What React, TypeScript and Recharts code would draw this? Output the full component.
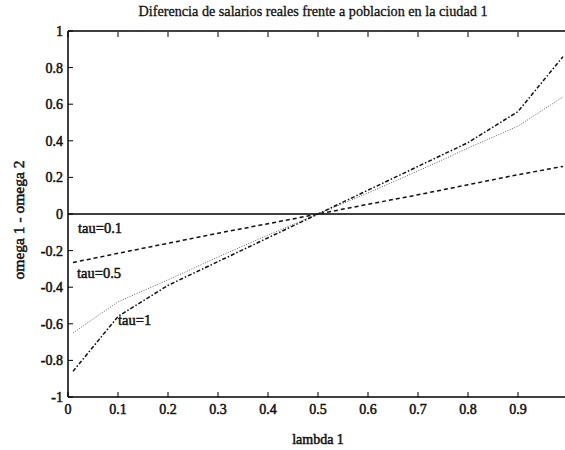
import React from 'react';
import { LineChart, Line, XAxis, YAxis, ReferenceLine, ReferenceDot, Label } from 'recharts';

const lambda = [0.01, 0.1, 0.2, 0.3, 0.4, 0.5, 0.6, 0.7, 0.8, 0.9, 0.99];
const tau01 = [-0.265, -0.215, -0.16, -0.105, -0.053, 0, 0.053, 0.105, 0.16, 0.215, 0.26];
const tau05 = [-0.65, -0.48, -0.36, -0.235, -0.115, 0, 0.115, 0.235, 0.36, 0.48, 0.64];
const tau1 = [-0.86, -0.56, -0.39, -0.26, -0.13, 0, 0.13, 0.26, 0.39, 0.56, 0.86];

const xTicks = [0, 0.1, 0.2, 0.3, 0.4, 0.5, 0.6, 0.7, 0.8, 0.9];
const yTicks = [-1, -0.8, -0.6, -0.4, -0.2, 0, 0.2, 0.4, 0.6, 0.8, 1];

const titleText = 'Diferencia de salarios reales frente a poblacion en la ciudad 1';
const xLabelText = 'lambda 1';
const yLabelText = 'omega 1 - omega 2';
const annotations = [
  { x: 0.02, y: -0.076, text: 'tau=0.1' },
  { x: 0.018, y: -0.32, text: 'tau=0.5' },
  { x: 0.1, y: -0.578, text: 'tau=1' },
];

const data = lambda.map((l, i) => ({ lambda: l, t01: tau01[i], t05: tau05[i], t1: tau1[i] }));

const FONT = 'Liberation Serif, Times New Roman, Times, serif';
const txt = (size: number, bold: number) => ({
  fontFamily: FONT, fontSize: size, fontWeight: 'normal', fill: '#111',
  stroke: bold > 0 ? '#111' : 'none', strokeWidth: bold,
} as any);

const BottomTick = (p: any) => (
  <g>
    <line x1={p.x} x2={p.x} y1={p.y} y2={p.y - 5} stroke="#000" strokeWidth={1} />
    <text x={p.x} y={p.y + 17} textAnchor="middle" style={txt(14, 0.5)}>
      {String(p.payload.value)}
    </text>
  </g>
);
const TopTick = (p: any) => (
  <line x1={p.x} x2={p.x} y1={p.y + 1} y2={p.y + 6} stroke="#000" strokeWidth={1} />
);
const LeftTick = (p: any) => (
  <g>
    <line x1={p.x} x2={p.x + 5} y1={p.y} y2={p.y} stroke="#000" strokeWidth={1} />
    <text x={p.x - 5} y={p.y + 5} textAnchor="end" style={txt(14, 0.5)}>
      {String(p.payload.value)}
    </text>
  </g>
);
const RightTick = (p: any) => (
  <line x1={p.x} x2={p.x - 5} y1={p.y} y2={p.y} stroke="#000" strokeWidth={1} />
);

export default function App() {
  return (
    <div style={{ position: 'absolute', left: 0, top: 0, width: 565, height: 450, overflow: 'hidden', background: '#fff' }}>
      <LineChart width={575} height={450} data={data} margin={{ top: 30, right: 7, left: 0, bottom: 0 }}>
        <XAxis xAxisId="b" dataKey="lambda" type="number" domain={[0, 1]} ticks={xTicks} interval={0}
          height={53} tickSize={0} tickMargin={0} tickLine={false} tick={<BottomTick />}
          axisLine={{ stroke: '#000', strokeWidth: 1.5 }}>
          <Label content={(props: any) => {
            const vb = props.viewBox;
            return (
              <text x={vb.x + vb.width / 2} y={vb.y + vb.height - 6} textAnchor="middle" style={txt(14, 0.5)}>{xLabelText}</text>
            );
          }} />
        </XAxis>
        <XAxis xAxisId="t" orientation="top" dataKey="lambda" type="number" domain={[0, 1]} ticks={xTicks} interval={0}
          height={1} tickSize={0} tickMargin={0} tickLine={false} tick={<TopTick />}
          axisLine={{ stroke: '#000', strokeWidth: 1.5 }}>
          <Label content={(props: any) => {
            const vb = props.viewBox;
            return (
              <text x={vb.x + vb.width / 2 - 5} y={vb.y - 14} textAnchor="middle" style={txt(14.2, 0.3)}>{titleText}</text>
            );
          }} />
        </XAxis>
        <YAxis yAxisId="l" type="number" domain={[-1, 1]} ticks={yTicks} interval={0} width={68}
          tickSize={0} tickMargin={0} tickLine={false} tick={<LeftTick />}
          axisLine={{ stroke: '#000', strokeWidth: 1.5 }}>
          <Label content={(props: any) => {
            const vb = props.viewBox;
            const cx = vb.x + 24;
            const cy = vb.y + vb.height / 2 + 6;
            return (
              <text x={cx} y={cy} transform={`rotate(-90, ${cx}, ${cy})`} textAnchor="middle" style={txt(15.5, 0.5)}>{yLabelText}</text>
            );
          }} />
        </YAxis>
        <YAxis yAxisId="r" orientation="right" type="number" domain={[-1, 1]} ticks={yTicks} interval={0} width={0}
          tickSize={0} tickMargin={0} tickLine={false} tick={<RightTick />}
          axisLine={{ stroke: '#000', strokeWidth: 1.5 }} />
        <ReferenceLine xAxisId="b" yAxisId="l" y={0} stroke="#000" strokeWidth={1.5} />
        <Line xAxisId="b" yAxisId="l" dataKey="t01" type="linear" stroke="#111" strokeWidth={1.5}
          strokeDasharray="4 3" dot={false} isAnimationActive={false} />
        <Line xAxisId="b" yAxisId="l" dataKey="t05" type="linear" stroke="#666" strokeWidth={1}
          strokeDasharray="1 1.5" dot={false} isAnimationActive={false} />
        <Line xAxisId="b" yAxisId="l" dataKey="t1" type="linear" stroke="#111" strokeWidth={1.5}
          strokeDasharray="4 2 1.5 2" dot={false} isAnimationActive={false} />
        {annotations.map((a) => (
          <ReferenceDot key={a.text} xAxisId="b" yAxisId="l" x={a.x} y={a.y} r={0} stroke="none" fill="none"
            label={{ value: a.text, position: 'right', offset: 0, style: txt(14.5, 0.5) }} />
        ))}
      </LineChart>
    </div>
  );
}
